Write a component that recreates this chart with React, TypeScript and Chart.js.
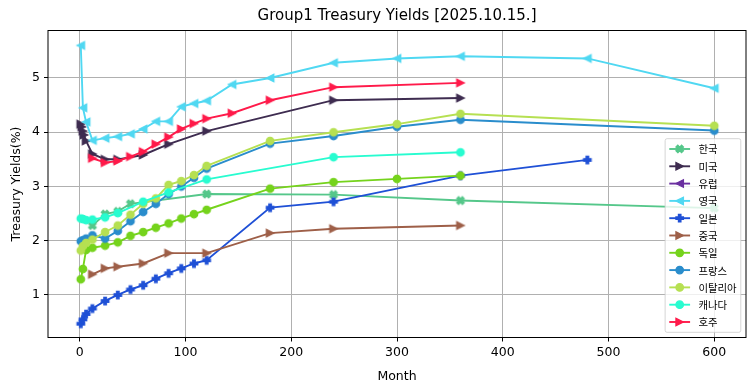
import React, { useEffect, useRef } from "react";
import { Chart, registerables } from "chart.js";
Chart.register(...registerables);

const chartTitle = "Group1 Treasury Yields [2025.10.15.]";
const xAxisTitle = "Month";
const yAxisTitle = "Treasury Yields(%)";
const xTickValues = [0, 100, 200, 300, 400, 500, 600];
const yTickValues = [1, 2, 3, 4, 5];

const countryNames = ["한국", "미국", "유럽", "영국", "일본", "중국", "독일", "프랑스", "이탈리아", "캐나다", "호주"];

const krMonths = [12, 24, 36, 48, 120, 240, 360, 600];
const krYields = [2.28, 2.49, 2.54, 2.68, 2.86, 2.85, 2.74, 2.6];

const usMonths = [1, 2, 3, 4, 6, 12, 24, 36, 60, 84, 120, 240, 360];
const usYields = [4.15, 4.1, 4.02, 3.95, 3.84, 3.6, 3.5, 3.5, 3.58, 3.78, 4.02, 4.59, 4.63];

const euMonths: number[] = [];
const euYields: number[] = [];

const ukMonths = [1, 3, 6, 12, 24, 36, 48, 60, 72, 84, 96, 108, 120, 144, 180, 240, 300, 360, 480, 600];
const ukYields = [5.6, 4.45, 4.19, 3.85, 3.89, 3.92, 3.97, 4.06, 4.2, 4.2, 4.47, 4.53, 4.58, 4.88, 5.0, 5.28, 5.36, 5.4, 5.36, 4.81];

const jpMonths = [1, 3, 6, 12, 24, 36, 48, 60, 72, 84, 96, 108, 120, 180, 240, 360, 480];
const jpYields = [0.47, 0.55, 0.65, 0.75, 0.89, 1.0, 1.1, 1.18, 1.3, 1.4, 1.49, 1.58, 1.64, 2.61, 2.72, 3.2, 3.49];

const cnMonths = [12, 24, 36, 60, 84, 120, 180, 240, 360];
const cnYields = [1.38, 1.49, 1.52, 1.58, 1.77, 1.77, 2.14, 2.22, 2.28];

const deMonths = [1, 3, 6, 12, 24, 36, 48, 60, 72, 84, 96, 108, 120, 180, 240, 300, 360];
const deYields = [1.29, 1.48, 1.83, 1.87, 1.91, 1.97, 2.09, 2.16, 2.24, 2.32, 2.41, 2.49, 2.57, 2.96, 3.08, 3.14, 3.2];

const frMonths = [1, 3, 6, 12, 24, 36, 48, 60, 72, 84, 96, 108, 120, 180, 240, 300, 360, 600];
const frYields = [1.99, 2.01, 2.04, 2.1, 2.04, 2.18, 2.36, 2.53, 2.68, 2.86, 3.0, 3.16, 3.33, 3.79, 3.93, 4.1, 4.23, 4.03];

const itMonths = [1, 3, 6, 12, 24, 36, 48, 60, 72, 84, 96, 108, 120, 180, 240, 300, 360, 600];
const itYields = [1.82, 1.9, 1.96, 2.02, 2.16, 2.28, 2.48, 2.68, 2.78, 3.03, 3.1, 3.21, 3.38, 3.84, 4.0, 4.15, 4.34, 4.12];

const caMonths = [1, 3, 6, 12, 24, 36, 60, 84, 120, 240, 360];
const caYields = [2.41, 2.4, 2.38, 2.39, 2.43, 2.51, 2.72, 2.89, 3.13, 3.54, 3.63];

const auMonths = [12, 24, 36, 48, 60, 72, 84, 96, 108, 120, 144, 180, 240, 360];
const auYields = [3.52, 3.44, 3.47, 3.55, 3.64, 3.78, 3.91, 4.06, 4.16, 4.25, 4.35, 4.59, 4.83, 4.91];

const monthsList = [krMonths, usMonths, euMonths, ukMonths, jpMonths, cnMonths, deMonths, frMonths, itMonths, caMonths, auMonths];
const yieldsList = [krYields, usYields, euYields, ukYields, jpYields, cnYields, deYields, frYields, itYields, caYields, auYields];

const seriesColors = ["#55c78a", "#3e2c50", "#6a2fa0", "#50d8f2", "#1f50d6", "#9e5f48", "#75d31c", "#2a8dcc", "#b6e052", "#28fcd0", "#ff1a4a"];
const seriesMarkers = ["X", ">", "<", "<", "P", ">", "o", "o", "o", "o", ">"];

const MS = 7.5; // marker size px
const MEW = 1.25; // marker edge width

function markerPath(ctx: CanvasRenderingContext2D, shape: string, cx: number, cy: number, s: number) {
  const h = s / 2;
  ctx.beginPath();
  const poly = (pts: number[][], div: number) => {
    pts.forEach((p, i) => {
      const x = cx + (p[0] / div) * s;
      const y = cy - (p[1] / div) * s;
      if (i === 0) ctx.moveTo(x, y);
      else ctx.lineTo(x, y);
    });
    ctx.closePath();
  };
  if (shape === "o") {
    ctx.arc(cx, cy, h, 0, Math.PI * 2);
  } else if (shape === ">") {
    ctx.moveTo(cx + h, cy);
    ctx.lineTo(cx - h, cy - h);
    ctx.lineTo(cx - h, cy + h);
    ctx.closePath();
  } else if (shape === "<") {
    ctx.moveTo(cx - h, cy);
    ctx.lineTo(cx + h, cy - h);
    ctx.lineTo(cx + h, cy + h);
    ctx.closePath();
  } else if (shape === "X") {
    poly(
      [[-1, -2], [0, -1], [1, -2], [2, -1], [1, 0], [2, 1], [1, 2], [0, 1], [-1, 2], [-2, 1], [-1, 0], [-2, -1]],
      4
    );
  } else if (shape === "P") {
    poly(
      [[-1, -3], [1, -3], [1, -1], [3, -1], [3, 1], [1, 1], [1, 3], [-1, 3], [-1, 1], [-3, 1], [-3, -1], [-1, -1]],
      6
    );
  }
}

function drawMarker(ctx: CanvasRenderingContext2D, shape: string, color: string, cx: number, cy: number) {
  ctx.save();
  markerPath(ctx, shape, cx, cy, MS);
  ctx.fillStyle = color;
  ctx.strokeStyle = color;
  ctx.lineWidth = MEW;
  ctx.lineJoin = "miter";
  ctx.fill();
  ctx.stroke();
  ctx.restore();
}

function makeMarkerCanvas(shape: string, color: string): HTMLCanvasElement {
  const c = document.createElement("canvas");
  c.width = 12;
  c.height = 12;
  const ctx = c.getContext("2d")!;
  drawMarker(ctx, shape, color, 6, 6);
  return c;
}

const framePlugin = {
  id: "frame",
  afterDatasetsDraw(chart: any) {
    const { ctx, chartArea } = chart;
    ctx.save();
    ctx.strokeStyle = "#000";
    ctx.lineWidth = 1;
    ctx.strokeRect(chartArea.left, chartArea.top, chartArea.right - chartArea.left, chartArea.bottom - chartArea.top);
    ctx.restore();
  },
};

const titlePlugin = {
  id: "mplTitle",
  afterDraw(chart: any) {
    const { ctx, chartArea } = chart;
    ctx.save();
    ctx.fillStyle = "#000";
    ctx.font = '15px "DejaVu Sans"';
    ctx.textAlign = "center";
    ctx.textBaseline = "middle";
    ctx.fillText(chartTitle, (chartArea.left + chartArea.right) / 2, 16.5);
    ctx.restore();
  },
};

const legendPlugin = {
  id: "mplLegend",
  afterDraw(chart: any) {
    const { ctx, chartArea } = chart;
    const fs = 10.4;
    const pad = 0.4 * fs;
    const handleLen = 2.0 * fs;
    const textPad = 0.8 * fs;
    const axPad = 0.5 * fs;
    const rowText = 12.3;
    const rowGap = 5.0;
    ctx.save();
    ctx.font = `${fs}px "Noto Sans CJK KR", "DejaVu Sans", sans-serif`;
    let maxW = 0;
    countryNames.forEach((n) => {
      maxW = Math.max(maxW, ctx.measureText(n).width);
    });
    const n = countryNames.length;
    const w = pad * 2 + handleLen + textPad + maxW;
    const h = pad * 2 + n * rowText + (n - 1) * rowGap;
    const right = chartArea.right - axPad;
    const bottom = chartArea.bottom - axPad;
    const left = right - w;
    const top = bottom - h;
    const r = 2;
    ctx.beginPath();
    ctx.moveTo(left + r, top);
    ctx.lineTo(right - r, top);
    ctx.quadraticCurveTo(right, top, right, top + r);
    ctx.lineTo(right, bottom - r);
    ctx.quadraticCurveTo(right, bottom, right - r, bottom);
    ctx.lineTo(left + r, bottom);
    ctx.quadraticCurveTo(left, bottom, left, bottom - r);
    ctx.lineTo(left, top + r);
    ctx.quadraticCurveTo(left, top, left + r, top);
    ctx.closePath();
    ctx.fillStyle = "rgba(255,255,255,0.8)";
    ctx.fill();
    ctx.strokeStyle = "rgba(204,204,204,0.8)";
    ctx.lineWidth = 1;
    ctx.stroke();
    countryNames.forEach((name, i) => {
      const cy = top + pad + rowText / 2 + i * (rowText + rowGap);
      const x0 = left + pad;
      const x1 = x0 + handleLen;
      ctx.beginPath();
      ctx.moveTo(x0, cy);
      ctx.lineTo(x1, cy);
      ctx.strokeStyle = seriesColors[i];
      ctx.lineWidth = 1.9;
      ctx.stroke();
      drawMarker(ctx, seriesMarkers[i], seriesColors[i], (x0 + x1) / 2, cy);
      ctx.fillStyle = "#000";
      ctx.textAlign = "left";
      ctx.textBaseline = "middle";
      ctx.fillText(name, x1 + textPad, cy + 0.5);
    });
    ctx.restore();
  },
};

export default function App() {
  const ref = useRef<HTMLCanvasElement>(null);
  useEffect(() => {
    const canvas = ref.current!;
    const n = countryNames.length;
    const datasets = countryNames.map((name, i) => ({
      label: name,
      data: monthsList[i].map((m, j) => ({ x: m, y: yieldsList[i][j] })),
      borderColor: seriesColors[i],
      backgroundColor: seriesColors[i],
      borderWidth: 1.9,
      pointStyle: makeMarkerCanvas(seriesMarkers[i], seriesColors[i]),
      pointRadius: 5,
      pointHoverRadius: 5,
      tension: 0,
      fill: false,
      order: n - 1 - i,
    }));
    const tickFont = { family: '"DejaVu Sans"', size: 12.5 };
    const chart = new Chart(canvas, {
      type: "line",
      data: { datasets } as any,
      options: {
        animation: false,
        responsive: false,
        devicePixelRatio: 1,
        events: [],
        layout: { padding: { top: 30.5, right: 9, left: 0, bottom: 0 } },
        plugins: {
          legend: { display: false },
          tooltip: { enabled: false },
          title: { display: false },
        },
        scales: {
          x: {
            type: "linear",
            min: -30,
            max: 630,
            afterBuildTicks: (s: any) => {
              s.ticks = xTickValues.map((v) => ({ value: v }));
            },
            afterFit: (s: any) => {
              s.height = 53.5;
            },
            ticks: {
              font: tickFont,
              color: "#000",
              padding: 4,
              maxRotation: 0,
              autoSkip: false,
              callback: (v: any) => String(v),
            },
            grid: { color: "#b0b0b0", lineWidth: 1, tickLength: 4, tickColor: "#000", drawTicks: true },
            border: { display: false },
            title: {
              display: true,
              text: xAxisTitle,
              font: tickFont,
              color: "#000",
              padding: { top: 0, bottom: 6.5 },
            },
          },
          y: {
            type: "linear",
            min: 0.215,
            max: 5.875,
            afterBuildTicks: (s: any) => {
              s.ticks = yTickValues.map((v) => ({ value: v }));
            },
            afterFit: (s: any) => {
              s.width = 48;
            },
            ticks: {
              font: tickFont,
              color: "#000",
              padding: 4,
              callback: (v: any) => String(v),
            },
            grid: { color: "#b0b0b0", lineWidth: 1, tickLength: 4, tickColor: "#000", drawTicks: true },
            border: { display: false },
            title: {
              display: true,
              text: yAxisTitle,
              font: tickFont,
              color: "#000",
              padding: { top: 9.5, bottom: 0 },
            },
          },
        },
      } as any,
      plugins: [framePlugin, legendPlugin, titlePlugin],
    });
    return () => chart.destroy();
  }, []);
  return (
    <div style={{ position: "fixed", left: 0, top: 0, width: 755, height: 391, background: "#fff" }}>
      <canvas ref={ref} width={755} height={391} style={{ display: "block" }} />
    </div>
  );
}
